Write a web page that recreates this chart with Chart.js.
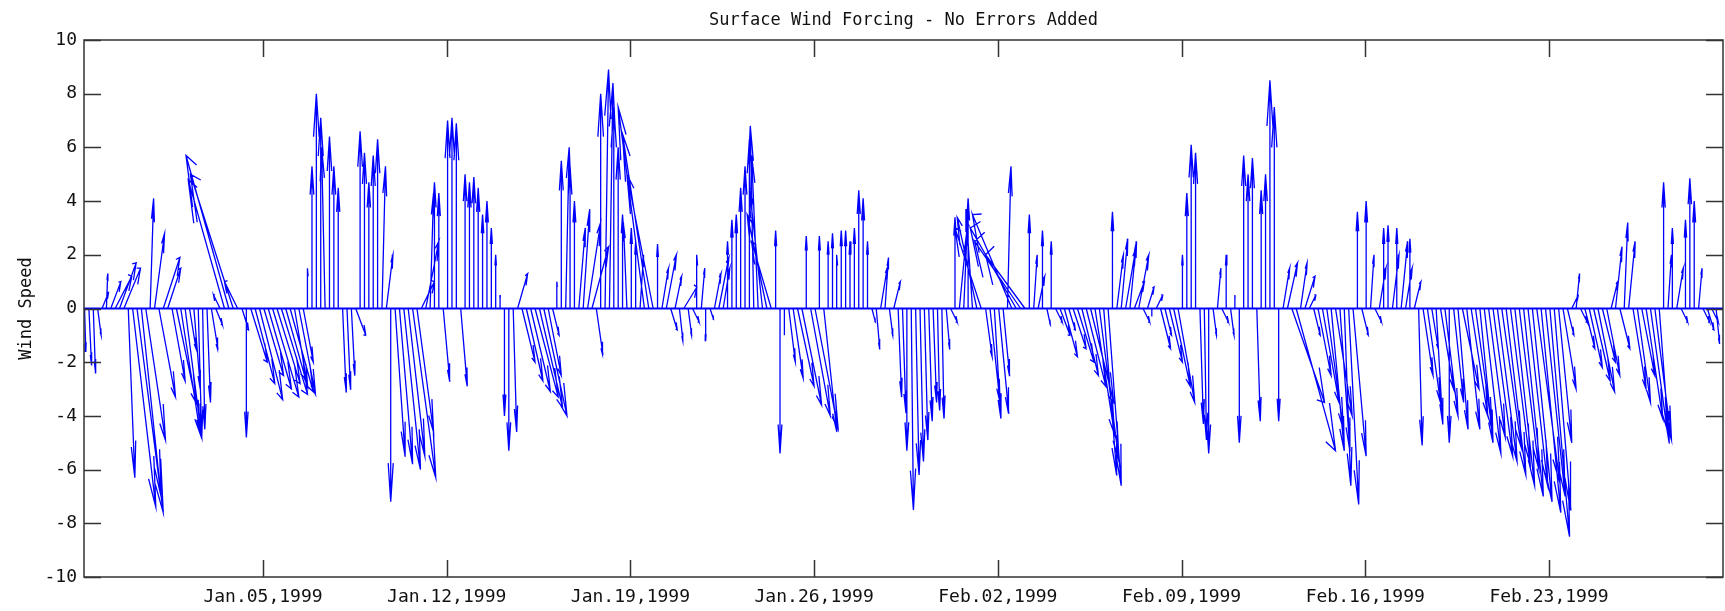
<!DOCTYPE html>
<html><head><meta charset="utf-8">
<script src="https://cdn.jsdelivr.net/npm/chart.js@4.4.0/dist/chart.umd.min.js"></script>
<style>html,body{margin:0;padding:0;background:#fff;}#wrap{width:1725px;height:611px;}</style>
</head><body><div id="wrap"><canvas id="c" width="1725" height="611"></canvas></div>
<script>
const chartTitle = 'Surface Wind Forcing - No Errors Added';
const yAxisLabel = 'Wind Speed';
const tickDays = [4, 11, 18, 25, 32, 39, 46, 53];
const tickLabels = ['Jan.05,1999','Jan.12,1999','Jan.19,1999','Jan.26,1999','Feb.02,1999','Feb.09,1999','Feb.16,1999','Feb.23,1999'];
const yTicks = [-10,-8,-6,-4,-2,0,2,4,6,8,10];
const xMinDay = -2.82, xMaxDay = 59.63;
const startDay = -2.8;      // first sample (days after Jan 1 1999)
const stepDay = 1/6;        // 4-hourly samples
// eastward (u) and northward (v) wind components, one per sample
const uWind = [
0.3,0.6,0.5,0.8,1.5,0.3, 2.3,3.8,3.8,3.8,1.5,5.3, 6,4.5,4.5,0.8,2.3,3.8, 3.8,3,3,4.5,4.5,3.8,
1.5,1.5,0.8,0.5,0.8,1.5, 1.5,-1.5,-8.3,-9.8,-9.8,-3, 1.5,0,3.8,4.5,5.3,4.5, 5.3,6,5.3,6,4.5,5.3,
3,3.8,2.3,0,0,0, 0,-0.8,0,0,0,0.8, 0.8,0.8,2.3,0,0,0, 0,0,0.8,1.5,0,2.3,
3,3.8,3.8,5.3,3.8,3, 3,0.8,0,0,1.5,0, 0,0,1.5,0,0,0, 0,0,0,0,0,0,
0,0,0.8,2.3,3,3.8, 4.5,5.3,5.3,5.3,3,1.5, 0,0,0.8,0,0,1.5, 1.5,3,3.8,1.5,0,0.8,
0.8,0,0,0,-0.8,0, 0,0.8,-6,-6,-6,0, 1.5,2.3,1.5,1.5,0.8,3, 0.8,1.5,0,0.8,0,0.8,
1.5,2.3,1.5,0,0,0, 0,0,0,-0.8,-1.5,-3, -4.5,-4.5,0,0,0,1.5, 2.3,3.8,4.5,0,4.5,5.3,
0,3,0,0,0,0, 0,0,0,0,0,0, 0.8,0.8,1.5,0.8,0.8,1.5, 0.8,0.8,0,0.5,0.8,0.8,
0.8,0.8,0.8,0.5,0.5,0.8, 1.5,0,1.5,0.8,0,-1.5, -4.5,-6,1.5,2.3,1.5,2.3, 1.5,0.8,-9,-10.5,-10.5,-9,
0,0.8,1.5,0,0.8,0, 1.5,2.3,3,1.5,3,3.8, 3.8,4.5,5.3,4.5,4.5,3, 3,0,1.5,1.5,2.3,1.5,
2.3,2.3,1.5,1.5,0,1.5, 2.3,1.5,3,3.8,3.8,0, 0,0,0,0.8,0.5,0, 0.8,0.8,1.5,0,0.8,0,
0,0,0,0,0.8,0, 0,0,0,0,1.5,2.3, 7.5,9,1.5,2.3,1.5,1.5, 3,3.8,3.8,3,3.8,2.3,
1.5,2.3,3,0,1.5,0, 0.8,1.5,1.5,0,0,1.5, 0,1.5,1.5,0,1.5,0.8, 2.3,3,1.5,1.5,3,3,
0,2.3,2.3,3.8,3,3.8, 3.8,3,3.8,3.8,4.5,4.5, 4.5,4.5,4.5,4.5,4.5,4.5, 4.5,4.5,5.3,4.5,4.5,4.5,
3.8,3,3,1.5,1.5,0.8, 1.5,2.3,3,3.8,3.8,3, 3,1.5,1.5,2.3,0.8,1.5, 3,3,3,3.8,3.8,3.8,
2.3,0,0.8,0,1.5,1.5, 0,0,0,0.8,1.5,1.5, 1.5,0.8
];
const vWind = [
-1.6,-2.1,-2.4,-1.0,0.6,1.3, 1.0,1.2,1.7,1.5,-6.3,-7.4, -7.6,-7.0,-4.9,4.1,2.8,-3.3, 1.9,1.5,-2.7,-3.5,-4.7,-4.8,
-1.5,-3.0,-4.8,-4.5,-3.5,-1.5, -0.6,0.5,4.8,5.7,5.0,1.0, -0.8,-4.8,-2.0,-2.8,-3.4,-2.5, -3.0,-3.3,-2.8,-3.2,-2.6,-3.1,
-2.9,-3.2,-2.0,1.5,5.3,8.0, 7.1,6.0,6.4,5.3,4.5,-3.1, -3.0,-2.5,-1.0,6.6,5.8,4.7, 5.7,6.3,5.3,2.0,-7.2,-5.5,
-5.8,-6.0,-5.5,-6.3,-4.6,1.0, 2.5,4.3,4.7,4.3,-2.7,7.0, 7.1,6.9,-2.9,5.0,4.7,4.9, 4.5,3.5,4.0,3.0,2.0,0.5,
-4.0,-5.3,-4.6,1.3,-2.0,-2.7, -3.1,-3.3,-3.7,-4.0,-2.5,-1.0, 1.0,5.5,6.0,5.3,4.0,3.0, 3.7,3.2,2.3,-1.7,8.0,8.9,
8.4,7.5,6.0,3.5,3.2,3.0, 2.5,2.0,7.5,6.5,5.0,2.4, 1.5,2.0,-0.8,1.2,-1.2,0.8, -1.0,-0.5,2.0,1.5,-1.2,-0.4,
1.3,1.9,1.5,2.5,3.3,3.5, 4.5,5.3,6.3,6.8,5.7,4.5, 3.5,2.5,2.9,-5.4,-1.0,-2.0, -2.6,-2.9,-3.6,2.7,-4.0,-4.5,
2.7,-4.6,2.5,2.8,2.0,2.9, 2.9,2.5,3.0,4.4,4.1,2.5, -0.5,-1.5,1.5,1.9,-1.0,1.0, -3.3,-3.9,-5.3,-7.5,-6.2,-5.7,
-4.9,-4.2,-3.5,-3.8,-4.1,-1.5, -0.5,3.4,2.5,3.0,4.1,3.7, 3.4,3.0,-1.8,-3.5,-4.1,-3.9, -2.5,5.3,3.5,3.0,2.5,2.0,
3.5,2.0,1.2,2.9,-0.6,2.5, -0.5,-1.0,-1.8,-0.8,-1.5,-2.0, -2.5,-2.9,-3.5,-4.7,-5.7,-6.2, -6.6,3.6,2.0,2.6,2.2,2.5,
1.0,2.0,-0.5,0.8,-0.3,0.5, -1.5,-1.0,-2.0,-2.9,-3.5,2.0, 4.3,6.1,5.8,-4.3,-4.9,-5.4, -1.0,1.5,-0.5,2.0,-1.0,0.5,
-5.0,5.7,5.0,5.6,-4.2,4.4, 5.0,8.5,7.5,-4.2,1.5,1.7, -3.5,-5.3,1.7,1.2,0.5,-1.0, -2.5,-3.5,-4.5,-5.3,-4.0,-5.3,
-6.6,-7.3,-5.5,3.6,-1.0,4.0, 2.0,-0.5,1.5,3.0,3.1,2.0, 3.0,2.5,1.5,2.6,1.0,-5.1, -2.5,-3.5,-1.5,-4.3,-3.0,-4.0,
-5.0,-3.5,-4.5,-3.0,-4.5,-4.0, -4.5,-5.0,-5.4,-4.8,-5.5,-5.7, -5.2,-6.2,-5.8,-6.6,-6.0,-7.0, -6.6,-7.2,-6.5,-7.6,-7.0,-8.5,
-7.5,-5.0,-3.0,-1.0,0.5,1.3, -0.5,-1.5,-2.2,-2.7,-3.1,-2.0, -2.5,1.0,2.3,-1.5,3.2,2.5, -3.0,-3.5,-2.5,-4.1,-4.5,-4.9,
-5.0,4.7,2.0,3.0,1.5,-0.5, 3.3,4.85,4.0,1.5,-0.5,-0.8, -0.5,-1.3
];

// feather sticks: one x-unit of u equals one sample step
const uScale = stepDay;
const stickPts = [];
for (let i = 0; i < vWind.length; i++) {
  const t = startDay + i * stepDay, u = uWind[i], v = vWind[i];
  const tx = t + u * uScale;
  stickPts.push({x: t, y: 0});
  stickPts.push({x: tx, y: v});
  stickPts.push({x: t + (0.8*u - 0.08*v) * uScale, y: 0.8*v + 0.08*u});
  stickPts.push({x: tx, y: v});
  stickPts.push({x: t + (0.8*u + 0.08*v) * uScale, y: 0.8*v - 0.08*u});
  stickPts.push({x: tx, y: null});
}

const FONT = "'DejaVu Sans Mono', 'Liberation Mono', monospace";
const framePlugin = {
  id: 'frame',
  afterDraw(chart) {
    const {ctx, chartArea: a, scales: {x, y}} = chart;
    ctx.save();
    ctx.strokeStyle = '#333';
    ctx.lineWidth = 1.5;
    ctx.strokeRect(a.left, a.top, a.right - a.left, a.bottom - a.top);
    ctx.beginPath();
    const L = 17;
    tickDays.forEach(d => {
      const px = Math.round(x.getPixelForValue(d)) + 0.5;
      ctx.moveTo(px, a.bottom); ctx.lineTo(px, a.bottom - L);
      ctx.moveTo(px, a.top); ctx.lineTo(px, a.top + L);
    });
    yTicks.forEach(val => {
      const py = Math.round(y.getPixelForValue(val)) + 0.5;
      ctx.moveTo(a.left, py); ctx.lineTo(a.left + L, py);
      ctx.moveTo(a.right, py); ctx.lineTo(a.right - L, py);
    });
    ctx.stroke();
    ctx.fillStyle = '#111';
    ctx.font = '17px ' + FONT;
    ctx.textAlign = 'center';
    ctx.textBaseline = 'middle';
    ctx.fillText(chartTitle, (a.left + a.right) / 2, 21);
    ctx.restore();
  }
};

new Chart(document.getElementById('c'), {
  type: 'line',
  data: {
    datasets: [
      { data: [{x: xMinDay, y: 0}, {x: xMaxDay, y: 0}], borderColor: '#0000ff', borderWidth: 2, pointRadius: 0 },
      { data: stickPts, borderColor: '#0000ff', borderWidth: 1.3, pointRadius: 0, spanGaps: false, tension: 0 }
    ]
  },
  options: {
    responsive: false,
    devicePixelRatio: 1,
    animation: false,
    layout: { padding: { top: 40, right: 2, left: 0, bottom: 0 } },
    plugins: { legend: { display: false }, tooltip: { enabled: false }, title: { display: false } },
    scales: {
      x: {
        type: 'linear', min: xMinDay, max: xMaxDay,
        grid: { display: false, drawTicks: false },
        border: { display: false },
        afterBuildTicks: s => { s.ticks = tickDays.map(v => ({value: v})); },
        afterFit: s => { s.height = 34; },
        ticks: { autoSkip: false, maxRotation: 0, padding: 10, color: '#111',
                 font: { family: FONT, size: 18 },
                 callback: (val, idx) => tickLabels[idx] }
      },
      y: {
        min: -10, max: 10,
        grid: { display: false, drawTicks: false },
        border: { display: false },
        afterBuildTicks: s => { s.ticks = yTicks.map(v => ({value: v})); },
        afterFit: s => { s.width = 84; },
        ticks: { padding: 7, color: '#111', font: { family: FONT, size: 18 } },
        title: { display: true, text: yAxisLabel, color: '#111', font: { family: FONT, size: 17 }, padding: { top: 16, bottom: 0 } }
      }
    }
  },
  plugins: [framePlugin]
});
</script></body></html>
